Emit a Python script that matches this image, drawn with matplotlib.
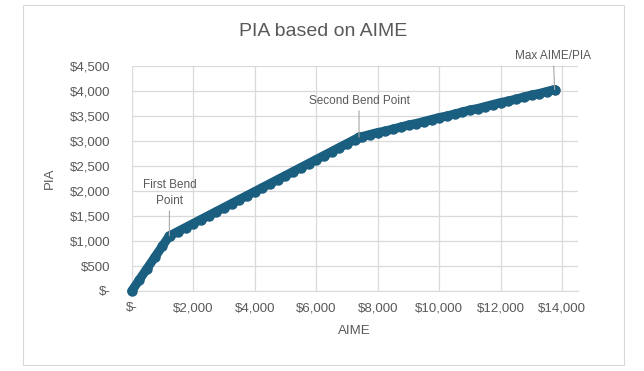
import matplotlib
matplotlib.use("Agg")
import matplotlib.pyplot as plt
from matplotlib.ticker import FuncFormatter

plt.rcParams['font.family'] = ['Liberation Sans', 'DejaVu Sans']

# AIME / PIA values
aime = [0, 250, 500, 750, 1000, 1226, 1250, 1500, 1750, 2000, 2250, 2500, 2750,
        3000, 3250, 3500, 3750, 4000, 4250, 4500, 4750, 5000, 5250, 5500, 5750,
        6000, 6250, 6500, 6750, 7000, 7250, 7391, 7500, 7750, 8000, 8250, 8500,
        8750, 9000, 9250, 9500, 9750, 10000, 10250, 10500, 10750, 11000, 11250,
        11500, 11750, 12000, 12250, 12500, 12750, 13000, 13250, 13500, 13750]
pia = [0, 225, 450, 675, 900, 1103, 1110, 1190, 1270, 1350, 1430, 1510, 1590,
       1670, 1750, 1830, 1910, 1990, 2070, 2150, 2230, 2310, 2390, 2470, 2550,
       2630, 2710, 2790, 2870, 2950, 3030, 3076, 3090, 3130, 3170, 3200, 3240,
       3280, 3320, 3350, 3390, 3430, 3470, 3500, 3540, 3580, 3620, 3650, 3690,
       3730, 3770, 3800, 3840, 3880, 3920, 3950, 3990, 4030]

# highlighted points and their labels
key_aime = [1226, 7391, 13750]
key_pia = [1103, 3076, 4030]
key_labels = ['First Bend\nPoint', 'Second Bend Point', 'Max AIME/PIA']

x_ticks = [0, 2000, 4000, 6000, 8000, 10000, 12000, 14000]
y_ticks = [0, 500, 1000, 1500, 2000, 2500, 3000, 3500, 4000, 4500]

text_col = '#595959'
grid_col = '#D9D9D9'
blue = '#1A5E80'
orange = '#E0651F'


def money(v, pos):
    if v == 0:
        return '$-'
    return '${:,.0f}'.format(v)


fig = plt.figure(figsize=(6.44, 3.71), dpi=100)
# outer chart border
fig.patches.append(plt.Rectangle((23 / 644, 1 - 365 / 371), 601 / 644, 360 / 371,
                                 transform=fig.transFigure, fill=False,
                                 edgecolor=grid_col, linewidth=0.8))

ax = fig.add_axes([131.7 / 644, 1 - 291 / 371, 446 / 644, 225 / 371])

ax.plot(key_aime, key_pia, 'o', color=orange, ms=6, zorder=2, clip_on=False)
ax.plot(aime, pia, '-o', color=blue, lw=6.5, ms=6.5, zorder=3,
        solid_capstyle='round', clip_on=False)

ax.set_xlim(0, 14500)
ax.set_ylim(0, 4500)
ax.set_xticks(x_ticks)
ax.set_yticks(y_ticks)
ax.xaxis.set_major_formatter(FuncFormatter(money))
ax.yaxis.set_major_formatter(FuncFormatter(money))
ax.tick_params(length=0, labelsize=9.5, labelcolor=text_col)
ax.tick_params(axis='y', pad=15)
ax.tick_params(axis='x', pad=8)
ax.grid(True, color=grid_col, linewidth=0.9)
ax.set_axisbelow(True)
for side in ['top', 'right', 'left']:
    ax.spines[side].set_visible(False)
ax.spines['bottom'].set_color(grid_col)

ax.set_xlabel('AIME', fontsize=9.5, color=text_col, labelpad=8)
ax.set_ylabel('PIA', fontsize=9.5, color=text_col, labelpad=10)
fig.text(323 / 644, 1 - 32 / 371, 'PIA based on AIME', ha='center', va='center',
         fontsize=14, color=text_col)

# leader lines + labels
offsets = [(0, 21), (0, 22), (-1, 20)]
for xv, yv, lab, (dx, dy) in zip(key_aime, key_pia, key_labels, offsets):
    ax.annotate(lab, xy=(xv, yv), xytext=(dx, dy), textcoords='offset points',
                ha='center', va='bottom', fontsize=8.5, color=text_col,
                linespacing=1.45,
                arrowprops=dict(arrowstyle='-', color='#A6A6A6', lw=0.8,
                                shrinkA=1, shrinkB=0))

fig.savefig('out.png', dpi=100)
